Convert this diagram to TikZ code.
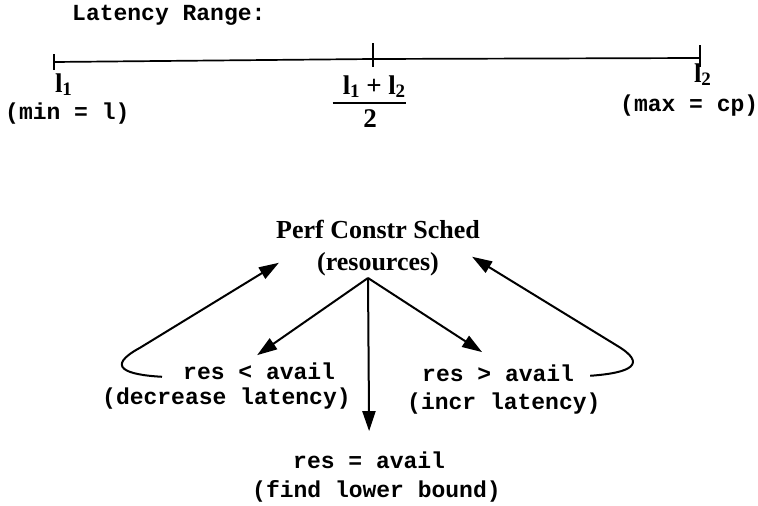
\documentclass[tikz,border=0pt]{standalone}
\usepackage{fontspec}
\setmainfont{Liberation Serif}
\setmonofont{Liberation Mono}
\usetikzlibrary{arrows.meta,calc}
% bold serif "l" with a lowered index
\newcommand\lidx[1]{l\kern-0.3pt\raisebox{-0.12em}{\fontsize{19}{19}\selectfont #1}}
\tikzset{
  mono/.style={font=\ttfamily\bfseries\fontsize{23}{27}\selectfont, inner sep=0pt},
  serifb/.style={font=\bfseries\fontsize{26}{30}\selectfont, inner sep=0pt},
  lbl/.style={font=\bfseries\fontsize{27}{30}\selectfont, inner sep=0pt},
  axis/.style={line width=1.7pt},
  arr/.style={line width=2pt, -{Triangle[length=20pt,width=13pt]}},
}
\begin{document}
\begin{tikzpicture}[x=1pt, y=-1pt]
\useasboundingbox (0,0) rectangle (758,506);

% ---------- latency range axis ----------
\node[mono, anchor=base west] (title) at (72,20) {Latency Range:};

\coordinate (a) at (54,62);
\coordinate (b) at (373,59);
\coordinate (c) at (700,58);
\draw[axis] (a) -- (b) -- (c);
\draw[axis] ($(a)+(0,-8)$) -- ($(a)+(0,8)$);
\draw[axis] ($(b)+(0,-16)$) -- ($(b)+(0,8)$);
\draw[axis] ($(c)+(0,-13)$) -- ($(c)+(0,9)$);

\node[lbl, anchor=base west] (l1) at (55,92) {\lidx{1}};
\node[mono, anchor=base west] (minl) at (5,119) {(min = l)};

\node[lbl, anchor=base] (num) at (374,94) {\lidx{1} + \lidx{2}};
\node[lbl, anchor=base] (den) at (370,127) {2};
\draw[line width=1.6pt] ($(num.base west)+(-10,9)$) -- ($(num.base east)+(1,9)$);

\node[lbl, anchor=base west] (l2) at (694,82) {\lidx{2}};
\node[mono, anchor=base west] (maxcp) at (620,111) {(max = cp)};

% ---------- scheduling decision diagram ----------
\node[serifb, anchor=base] (pcs) at (378,238) {Perf Constr Sched};
\node[serifb, anchor=base] (res) at (378,270) {(resources)};
\coordinate (apex) at (368,278);

\node[mono, anchor=base west] (lt) at (183,379) {res < avail};
\node[mono, anchor=base west] (ltc) at (102,404) {(decrease latency)};
\node[mono, anchor=base west] (gt) at (422,381) {res > avail};
\node[mono, anchor=base west] (gtc) at (407,409) {(incr latency)};
\node[mono, anchor=base west] (eq) at (293,468) {res = avail};
\node[mono, anchor=base west] (eqc) at (252,497) {(find lower bound)};

\draw[arr] (apex) -- ($(lt.north)+(-2,-7)$);
\draw[arr] (apex) -- ($(gt.north)+(-16,-12)$);
\draw[arr] (apex) -- ($(eq.north)+(0,-20)$);

% feedback loops back to the scheduler
\draw[arr] ($(lt.west)+(-21,6)$) .. controls +(-37,-2) and +(-35,19) .. +(-22,-29)
           -- ($(res.west)+(-38,-1)$);
\draw[arr] ($(gt.east)+(16,3)$) .. controls +(42,-3) and +(30,18) .. +(27,-30)
           -- ($(res.east)+(33,-7)$);
\end{tikzpicture}
\end{document}
